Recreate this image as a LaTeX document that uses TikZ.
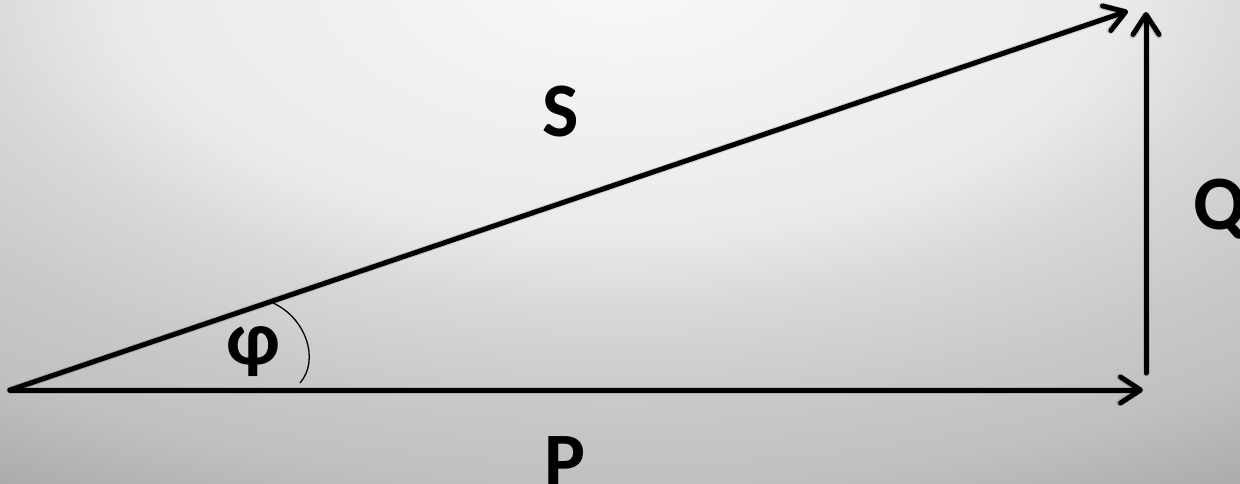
\documentclass[tikz,border=0pt]{standalone}
\usepackage{fontspec}
\setmainfont{Carlito}
\usetikzlibrary{arrows.meta}
\definecolor{bgA}{RGB}{248,248,248}
\definecolor{bgB}{RGB}{234,234,234}
\definecolor{bgC}{RGB}{216,216,216}
\definecolor{bgD}{RGB}{200,200,200}
\definecolor{bgE}{RGB}{192,192,192}
\definecolor{bgF}{RGB}{168,168,168}
\definecolor{bgG}{RGB}{160,160,160}
\pgfdeclareradialshading{bgshade}{\pgfpoint{0bp}{0bp}}{color(0bp)=(bgA); color(10bp)=(bgB); color(13bp)=(bgC); color(17bp)=(bgD); color(20bp)=(bgE); color(24bp)=(bgF); color(50bp)=(bgG)}
\tikzset{
  vec/.style={line width=5pt, line cap=round, -{Straight Barb[round, length=20pt, width=26pt]}},
  vecshadow/.style={vec, draw=black, draw opacity=0.12, line width=7pt},
  lbl/.style={font=\fontsize{77}{80}\selectfont\bfseries, inner sep=0pt, text=black},
  anglearc/.style={line width=1.3pt}
}
\begin{document}
\begin{tikzpicture}[x=1pt, y=-1pt]
\useasboundingbox (0,0) rectangle (1240,484);
\clip (0,0) rectangle (1240,484);
\shade[shading=bgshade] (-630,-652) rectangle (1870,612);
% points
\coordinate (O) at (10,390);
\coordinate (Ptip) at (1143,390);
\coordinate (Qbase) at (1146,373);
\coordinate (Qtip) at (1146,12);
\coordinate (Stip) at (1128,11);
\coordinate (A1) at (273,303);
\coordinate (A2) at (300,383);
% shadows
\begin{scope}[shift={(2,4)}]
\draw[vecshadow] (O) -- (Ptip);
\draw[vecshadow] (Qbase) -- (Qtip);
\draw[vecshadow] (O) -- (Stip);
\end{scope}
% vectors
\draw[vec] (O) -- (Ptip);
\draw[vec] (Qbase) -- (Qtip);
\draw[vec] (O) -- (Stip);
% angle arc
\draw[anglearc] (A1) .. controls (306,318) and (320,360) .. (A2);
% labels
\node[lbl, anchor=base] (S) at (561,137) {S};
\node[lbl, anchor=base] (P) at (565,486) {P};
\node[lbl, anchor=base west] (Q) at (1193,229) {Q};
\node[lbl, anchor=center] (phi) at (253,352) {φ};
\end{tikzpicture}
\end{document}
